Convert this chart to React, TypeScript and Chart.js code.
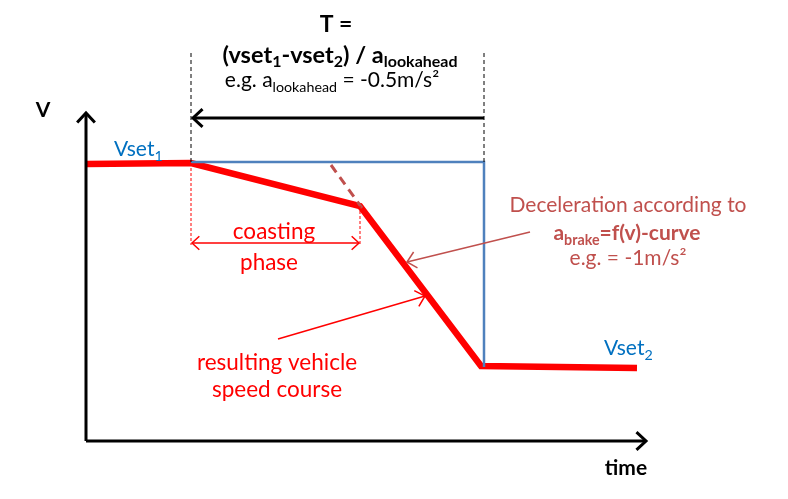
import React, { useEffect, useRef } from 'react';
import { Chart, registerables } from 'chart.js';
Chart.register(...registerables);

// value ranges of the (hidden) time / speed axes
const timeRange = [-8.6, 70.2];
const speedRange = [-5.8, 44.1];

// resulting vehicle speed course
const courseTime = [0, 10.5, 27.4, 39.5, 55.1];
const courseSpeed = [27.7, 27.8, 23.5, 7.5, 7.3];
// lookahead step (vset1 -> vset2)
const stepTime = [10.5, 39.8, 39.8];
const stepSpeed = [27.9, 27.9, 7.4];
// a_brake = f(v) curve extension
const brakeTime = [24.5, 27.6];
const brakeSpeed = [27.6, 23.3];
// guide lines
const guideTTime = [10.5, 39.8];
const guideTSpeed = [27.9, 38.9];
const coastTime = [10.5, 27.4];
const coastTopSpeed = [27.8, 23.5];
const coastBottomSpeed = 19.6;
// axes
const axisTimeEnd = 56;
const axisSpeedEnd = 32.8;

const FONT = 'Lato, "Open Sans", sans-serif';
const RED = '#FF0000';
const BLUE = '#4F81BD';
const TBLUE = '#0070C0';
const BROWN = '#C0504D';

type Run = { t: string; sub?: boolean };

const pts = (ts: number[], vs: number[]) => ts.map((t, i) => ({ x: t, y: vs[i] }));

function drawHead(ctx: CanvasRenderingContext2D, x1: number, y1: number, x2: number, y2: number, len: number, ang: number) {
  const a = Math.atan2(y2 - y1, x2 - x1);
  ctx.beginPath();
  ctx.moveTo(x2 - len * Math.cos(a - ang), y2 - len * Math.sin(a - ang));
  ctx.lineTo(x2, y2);
  ctx.lineTo(x2 - len * Math.cos(a + ang), y2 - len * Math.sin(a + ang));
  ctx.stroke();
}

function drawRuns(ctx: CanvasRenderingContext2D, runs: Run[], x: number, y: number, size: number, bold: boolean, color: string, align: 'left' | 'center', subShift = 0.22) {
  const w8 = bold ? 'bold ' : '';
  const sub = size * 0.68;
  let total = 0;
  const widths = runs.map((r) => {
    ctx.font = `${w8}${r.sub ? sub : size}px ${FONT}`;
    const w = ctx.measureText(r.t).width;
    total += w;
    return w;
  });
  let cx = align === 'center' ? x - total / 2 : x;
  ctx.fillStyle = color;
  ctx.textAlign = 'left';
  ctx.textBaseline = 'alphabetic';
  runs.forEach((r, i) => {
    ctx.font = `${w8}${r.sub ? sub : size}px ${FONT}`;
    ctx.fillText(r.t, cx, r.sub ? y + size * subShift : y);
    cx += widths[i];
  });
}

const arrows = [
  { from: [0, 0], to: [0, axisSpeedEnd], color: '#000', width: 3, len: 13, both: false },
  { from: [0, 0], to: [axisTimeEnd, 0], color: '#000', width: 3, len: 13, both: false },
  { from: [39.8, 32.3], to: [10.7, 32.3], color: '#000', width: 3, len: 13, both: false },
  { from: [10.6, 19.8], to: [27.3, 19.8], color: RED, width: 1.5, len: 10, both: true },
  { from: [44.4, 20.9], to: [32.1, 17.9], color: BROWN, width: 1.5, len: 12, both: false },
  { from: [19.2, 10.2], to: [33.9, 14.5], color: RED, width: 1.5, len: 12, both: false },
];

const texts: { runs: Run[]; t: number; v: number; size: number; bold: boolean; color: string; align: 'left' | 'center'; shift?: number }[] = [
  { runs: [{ t: 'T =' }], t: 25.0, v: 40.9, size: 23, bold: true, color: '#000', align: 'center' },
  { runs: [{ t: '(vset' }, { t: '1', sub: true }, { t: '-vset' }, { t: '2', sub: true }, { t: ') / a' }, { t: 'lookahead', sub: true }], t: 25.4, v: 37.8, size: 23.5, bold: true, color: '#000', align: 'center', shift: 0.15 },
  { runs: [{ t: 'e.g. a' }, { t: 'lookahead', sub: true }, { t: ' = -0.5m/s²' }], t: 24.6, v: 35.4, size: 21, bold: false, color: '#000', align: 'center' },
  { runs: [{ t: 'V' }], t: -4.3, v: 32.4, size: 21, bold: true, color: '#000', align: 'center' },
  { runs: [{ t: 'time' }], t: 54.0, v: -3.4, size: 21, bold: true, color: '#000', align: 'center' },
  { runs: [{ t: 'Vset' }, { t: '1', sub: true }], t: 2.8, v: 28.5, size: 21, bold: false, color: TBLUE, align: 'left' },
  { runs: [{ t: 'Vset' }, { t: '2', sub: true }], t: 51.8, v: 8.6, size: 21, bold: false, color: TBLUE, align: 'left' },
  { runs: [{ t: 'coasting' }], t: 18.8, v: 20.2, size: 22.5, bold: false, color: RED, align: 'center' },
  { runs: [{ t: 'phase' }], t: 18.3, v: 17.1, size: 22.5, bold: false, color: RED, align: 'center' },
  { runs: [{ t: 'resulting vehicle' }], t: 19.1, v: 7.1, size: 22.5, bold: false, color: RED, align: 'center' },
  { runs: [{ t: 'speed course' }], t: 19.1, v: 4.4, size: 22.5, bold: false, color: RED, align: 'center' },
  { runs: [{ t: 'Deceleration according to' }], t: 54.2, v: 22.9, size: 21, bold: false, color: BROWN, align: 'center' },
  { runs: [{ t: 'a' }, { t: 'brake', sub: true }, { t: '=f(v)-curve' }], t: 54.1, v: 20.1, size: 21, bold: true, color: BROWN, align: 'center' },
  { runs: [{ t: 'e.g. = -1m/s²' }], t: 54.2, v: 17.6, size: 21, bold: false, color: BROWN, align: 'center' },
];

const overlay = {
  id: 'overlay',
  afterDatasetsDraw(chart: any) {
    const ctx: CanvasRenderingContext2D = chart.ctx;
    const X = (t: number) => chart.scales.x.getPixelForValue(t);
    const Y = (v: number) => chart.scales.y.getPixelForValue(v);
    ctx.save();
    ctx.lineCap = 'butt';
    ctx.lineJoin = 'miter';
    arrows.forEach((a) => {
      const x1 = X(a.from[0]), y1 = Y(a.from[1]), x2 = X(a.to[0]), y2 = Y(a.to[1]);
      ctx.strokeStyle = a.color;
      ctx.lineWidth = a.width;
      ctx.beginPath();
      ctx.moveTo(x1, y1);
      ctx.lineTo(x2, y2);
      ctx.stroke();
      drawHead(ctx, x1, y1, x2, y2, a.len, Math.PI / 4.2);
      if (a.both) drawHead(ctx, x2, y2, x1, y1, a.len, Math.PI / 4.2);
    });
    texts.forEach((tx) => drawRuns(ctx, tx.runs, X(tx.t), Y(tx.v), tx.size, tx.bold, tx.color, tx.align, tx.shift ?? 0.22));
    ctx.restore();
  },
};

export default function App() {
  const ref = useRef<HTMLCanvasElement>(null);
  useEffect(() => {
    document.body.style.margin = '0';
    const line = (data: any, color: string, width: number, dash: number[] = []) => ({
      data,
      borderColor: color,
      borderWidth: width,
      borderDash: dash,
      showLine: true,
      pointRadius: 0,
      fill: false,
      tension: 0,
    });
    const chart = new Chart(ref.current!, {
      type: 'scatter',
      data: {
        datasets: [
          line(pts([guideTTime[0], guideTTime[0]], guideTSpeed), '#000', 1, [4, 3]),
          line(pts([guideTTime[1], guideTTime[1]], guideTSpeed), '#000', 1, [4, 3]),
          line(pts([coastTime[0], coastTime[0]], [coastTopSpeed[0], coastBottomSpeed]), RED, 1, [3, 2]),
          line(pts([coastTime[1], coastTime[1]], [coastTopSpeed[1], coastBottomSpeed]), RED, 1, [3, 2]),
          line(pts(stepTime, stepSpeed), BLUE, 2.5),
          line(pts(brakeTime, brakeSpeed), BROWN, 3, [9, 6]),
          line(pts(courseTime, courseSpeed), RED, 6.5),
        ],
      },
      options: {
        animation: false,
        responsive: false,
        devicePixelRatio: 1,
        layout: { padding: 0 },
        plugins: { legend: { display: false }, tooltip: { enabled: false } },
        scales: {
          x: { type: 'linear', display: false, min: timeRange[0], max: timeRange[1] },
          y: { type: 'linear', display: false, min: speedRange[0], max: speedRange[1] },
        },
      },
      plugins: [overlay],
    } as any);
    return () => chart.destroy();
  }, []);
  return (
    <div style={{ position: 'absolute', left: 0, top: 0, width: 788, height: 499, background: '#fff' }}>
      <canvas ref={ref} width={788} height={499} />
    </div>
  );
}
